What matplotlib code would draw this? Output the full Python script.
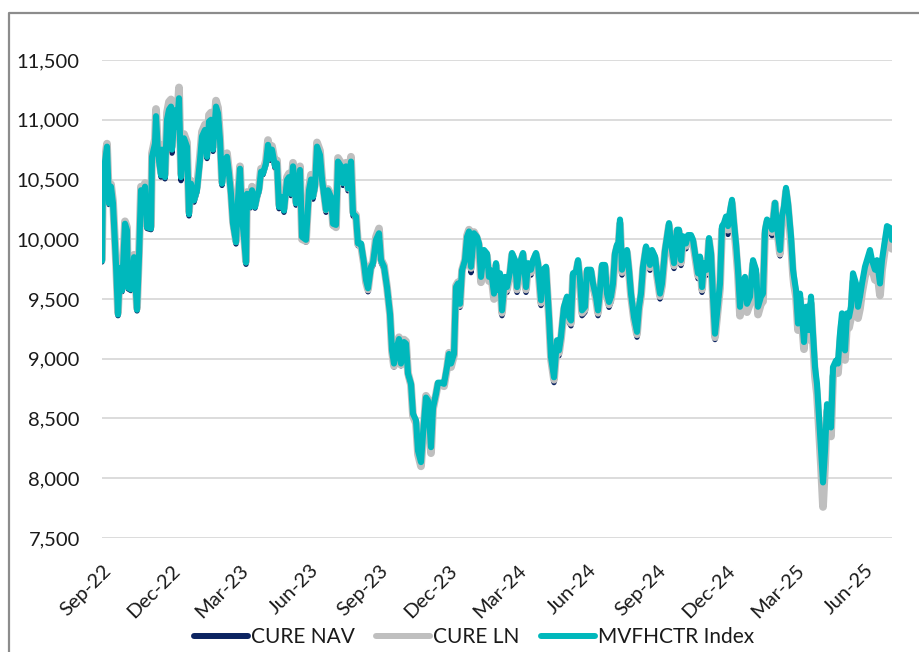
import matplotlib
matplotlib.use("Agg")
import numpy as np
import pandas as pd
import matplotlib.pyplot as plt
import matplotlib.dates as mdates
from matplotlib.lines import Line2D
from matplotlib.ticker import FuncFormatter

# position along the time axis (0 = 1 Sep 2022, 0.76 per day)
session = [
    0, 1, 5, 7, 9, 11, 14, 16, 18, 20,
    23, 25, 26, 29, 32, 35, 37, 39, 41, 43,
    45, 49, 50, 53, 54, 56, 59, 60, 63, 65,
    67, 69, 70, 73, 75, 77, 79, 82, 85, 87,
    89, 92, 95, 98, 100, 103, 105, 107, 109, 111,
    114, 116, 118, 120, 123, 125, 127, 129, 131, 134,
    136, 138, 140, 142, 144, 145, 148, 150, 153, 155,
    157, 159, 161, 164, 166, 168, 170, 173, 175, 177,
    179, 182, 185, 187, 189, 191, 194, 196, 198, 200,
    204, 207, 209, 211, 213, 215, 218, 220, 224, 226,
    229, 231, 234, 236, 239, 241, 244, 246, 249, 251,
    254, 256, 259, 262, 264, 266, 269, 271, 274, 277,
    279, 282, 285, 288, 290, 292, 295, 297, 299, 302,
    304, 306, 309, 311, 314, 316, 319, 321, 324, 326,
    329, 331, 334, 336, 339, 342, 345, 347, 349, 352,
    354, 356, 358, 360, 363, 365, 367, 369, 372, 375,
    377, 379, 382, 385, 387, 389, 392, 394, 396, 398,
    400, 403, 405, 408, 410, 413, 415, 418, 421, 424,
    426, 429, 431, 434, 436, 439, 441, 444, 447, 449,
    452, 455, 457, 459, 462, 465, 467, 469, 471, 474,
    476, 478, 480, 483, 485, 489, 491, 494, 496, 498,
    500, 503, 505, 507, 509, 511, 513, 515, 516, 518,
    520, 522, 525, 527, 529, 532, 535, 537, 539, 541,
    544, 546, 548, 550, 553, 555, 558, 560, 563, 565,
    567, 569, 572, 575, 577, 579, 581, 584, 586, 589,
    591, 594, 596, 598, 600, 602, 605, 607, 609, 611,
    613, 615, 618, 620, 622, 624, 626, 628, 630, 632,
    634, 636, 638, 640, 643, 645, 648, 651, 654, 656,
    659, 661, 663, 665, 668, 670, 673, 675, 678, 680,
    682, 684, 686, 689, 691, 692, 694, 696, 698, 700,
    702, 704, 706, 707, 709, 711, 713, 715, 717, 719,
    721, 723, 725, 727, 729, 731, 734, 736, 738, 740,
    743, 745, 747, 749, 751, 754, 756, 758, 760, 763,
    765, 768, 770, 773, 775, 778, 780, 783, 785, 788, 790,
]

mvfhctr = [
    9820, 10520, 10775, 10300, 10440, 10300, 9790, 9370, 9760, 9570,
    10130, 10075, 9595, 9580, 9850, 9410, 9850, 10410, 10240, 10440,
    10100, 10090, 10690, 10800, 11030, 10720, 10535, 10750, 10520, 11000,
    11085, 11110, 10750, 11080, 10940, 11180, 10520, 10845, 10775, 10210,
    10465, 10325, 10410, 10660, 10860, 10915, 10690, 10985, 11000, 10750,
    11110, 11055, 10830, 10465, 10660, 10690, 10550, 10380, 10130, 9975,
    10325, 10590, 10185, 10015, 9805, 10380, 10270, 10410, 10270, 10355,
    10410, 10565, 10550, 10635, 10790, 10675, 10750, 10610, 10635, 10270,
    10355, 10240, 10495, 10520, 10380, 10610, 10300, 10410, 10580, 10020,
    9995, 10410, 10500, 10355, 10440, 10775, 10705, 10500, 10245, 10410,
    10355, 10130, 10120, 10650, 10610, 10470, 10610, 10425, 10650, 10215,
    10190, 9965, 9965, 9800, 9660, 9590, 9770, 9800, 9995, 10050,
    9825, 9770, 9600, 9375, 9070, 8960, 9100, 9165, 8960, 9140,
    9125, 8875, 8790, 8540, 8485, 8230, 8135, 8370, 8675, 8650,
    8260, 8590, 8705, 8800, 8800, 8790, 8930, 9040, 8960, 9040,
    9600, 9630, 9460, 9740, 9825, 10020, 10065, 9770, 10050, 10020,
    9965, 9685, 9910, 9880, 9685, 9740, 9545, 9800, 9575, 9715,
    9405, 9685, 9600, 9730, 9885, 9825, 9600, 9800, 9885, 9600,
    9800, 9745, 9825, 9885, 9800, 9490, 9745, 9770, 9350, 9015,
    8845, 9155, 9070, 9185, 9435, 9520, 9350, 9320, 9715, 9730,
    9825, 9660, 9405, 9435, 9745, 9745, 9630, 9520, 9405, 9575,
    9785, 9785, 9545, 9475, 9520, 9630, 9885, 9955, 9910, 10165,
    9745, 9825, 9910, 9745, 9545, 9350, 9225, 9435, 9545, 9770,
    9940, 9885, 9785, 9910, 9855, 9715, 9545, 9630, 9910, 10025,
    10135, 9965, 9800, 10080, 10080, 9825, 10025, 9965, 10035, 10035,
    9995, 9825, 9715, 9855, 9600, 9800, 9745, 10010, 9885, 9520,
    9210, 9380, 9630, 10110, 10135, 10190, 10110, 10235, 10330, 10135,
    9965, 9745, 9435, 9630, 9685, 9460, 9520, 9825, 9745, 9435,
    9520, 9545, 10080, 10165, 10135, 10080, 10305, 10110, 9910, 10190,
    10275, 10430, 10305, 10025, 9745, 9685, 9575, 9295, 9545, 9350,
    9140, 9435, 9435, 9240, 9520, 9210, 8930, 8790, 8510, 8230,
    7965, 8230, 8620, 8565, 8425, 8930, 8985, 8960, 9210, 9380,
    9070, 9380, 9350, 9435, 9715, 9630, 9435, 9520, 9630, 9770,
    9825, 9910, 9825, 9745, 9825, 9630, 9825, 9995, 10110, 10095, 9995,
]

cure_nav = [
    9810, 10510, 10765, 10290, 10430, 10290, 9780, 9360, 9750, 9560,
    10120, 10065, 9585, 9570, 9840, 9400, 9840, 10400, 10230, 10430,
    10090, 10080, 10680, 10790, 11015, 10705, 10520, 10735, 10505, 10985,
    11070, 11095, 10720, 11065, 10925, 11165, 10490, 10830, 10760, 10195,
    10450, 10310, 10395, 10645, 10845, 10900, 10675, 10970, 10985, 10735,
    11095, 11040, 10815, 10450, 10645, 10675, 10535, 10365, 10115, 9960,
    10310, 10600, 10170, 10000, 9790, 10390, 10260, 10400, 10260, 10340,
    10395, 10575, 10540, 10625, 10775, 10660, 10735, 10595, 10620, 10255,
    10340, 10225, 10480, 10505, 10365, 10595, 10285, 10395, 10565, 10005,
    9975, 10390, 10480, 10335, 10420, 10755, 10685, 10480, 10225, 10390,
    10335, 10110, 10100, 10630, 10590, 10450, 10590, 10405, 10630, 10195,
    10170, 9945, 9945, 9780, 9640, 9560, 9750, 9780, 9975, 10030,
    9805, 9750, 9580, 9355, 9045, 8930, 9080, 9145, 8940, 9120,
    9105, 8855, 8770, 8515, 8460, 8200, 8110, 8345, 8655, 8630,
    8235, 8570, 8685, 8780, 8780, 8770, 8910, 9020, 8940, 9020,
    9575, 9610, 9430, 9715, 9800, 9995, 10040, 9720, 10020, 9995,
    9940, 9660, 9885, 9855, 9660, 9715, 9505, 9775, 9545, 9690,
    9360, 9640, 9555, 9685, 9840, 9780, 9555, 9755, 9840, 9555,
    9755, 9700, 9780, 9840, 9755, 9445, 9700, 9725, 9305, 8970,
    8800, 9110, 9025, 9140, 9390, 9475, 9305, 9275, 9670, 9685,
    9780, 9615, 9360, 9390, 9700, 9700, 9585, 9475, 9360, 9530,
    9740, 9740, 9500, 9430, 9475, 9585, 9840, 9910, 9865, 10110,
    9700, 9780, 9865, 9700, 9500, 9305, 9180, 9390, 9500, 9725,
    9895, 9840, 9740, 9865, 9810, 9670, 9500, 9585, 9865, 9980,
    10090, 9920, 9755, 10035, 10035, 9780, 9980, 9920, 9990, 9990,
    9950, 9780, 9670, 9810, 9555, 9755, 9700, 9965, 9840, 9475,
    9160, 9330, 9580, 10060, 10085, 10140, 10040, 10160, 10280, 10085,
    9915, 9695, 9390, 9580, 9635, 9410, 9470, 9775, 9695, 9385,
    9470, 9490, 10030, 10115, 10085, 10030, 10255, 10060, 9860, 10140,
    10210, 10380, 10255, 9975, 9695, 9635, 9525, 9245, 9495, 9300,
    9090, 9385, 9385, 9190, 9470, 9160, 8880, 8740, 8460, 8180,
    7915, 8180, 8570, 8515, 8375, 8880, 8935, 8910, 9160, 9330,
    9020, 9330, 9300, 9385, 9665, 9580, 9385, 9470, 9580, 9720,
    9775, 9860, 9775, 9695, 9775, 9580, 9775, 9945, 10060, 10045, 9945,
]

cure_ln = [
    9830, 10545, 10800, 10320, 10460, 10320, 9810, 9385, 9780, 9590,
    10150, 10100, 9610, 9600, 9870, 9425, 9880, 10440, 10260, 10470,
    10120, 10110, 10720, 10840, 11090, 10750, 10560, 10790, 10545, 11060,
    11150, 11170, 10780, 11140, 10990, 11270, 10545, 10880, 10810, 10230,
    10490, 10345, 10440, 10700, 10900, 10960, 10720, 11040, 11060, 10780,
    11160, 11100, 10860, 10480, 10690, 10720, 10570, 10395, 10145, 9985,
    10345, 10610, 10200, 10030, 9815, 10395, 10290, 10440, 10290, 10370,
    10430, 10590, 10570, 10660, 10830, 10700, 10780, 10640, 10660, 10290,
    10375, 10260, 10520, 10550, 10400, 10640, 10310, 10430, 10610, 10000,
    9985, 10430, 10540, 10370, 10460, 10810, 10740, 10520, 10250, 10420,
    10370, 10120, 10100, 10680, 10640, 10480, 10640, 10430, 10690, 10230,
    10200, 9960, 9950, 9790, 9640, 9580, 9780, 9810, 10020, 10090,
    9830, 9780, 9600, 9370, 9060, 8940, 9110, 9180, 8950, 9160,
    9145, 8880, 8780, 8520, 8460, 8200, 8100, 8340, 8690, 8660,
    8210, 8580, 8700, 8790, 8780, 8770, 8920, 9050, 8930, 9030,
    9610, 9640, 9450, 9740, 9830, 10030, 10080, 9760, 10060, 10010,
    9950, 9640, 9890, 9860, 9650, 9720, 9500, 9780, 9540, 9690,
    9385, 9665, 9580, 9710, 9870, 9805, 9580, 9780, 9870, 9580,
    9780, 9725, 9805, 9870, 9780, 9470, 9725, 9750, 9330, 8995,
    8825, 9135, 9050, 9165, 9415, 9500, 9330, 9300, 9695, 9710,
    9805, 9640, 9385, 9415, 9725, 9725, 9610, 9500, 9385, 9555,
    9765, 9765, 9525, 9455, 9500, 9610, 9865, 9935, 9890, 10130,
    9725, 9805, 9890, 9725, 9525, 9330, 9205, 9415, 9525, 9750,
    9920, 9865, 9765, 9890, 9835, 9695, 9525, 9610, 9890, 10005,
    10115, 9945, 9780, 10060, 10060, 9805, 10005, 9945, 10015, 10015,
    9975, 9805, 9695, 9835, 9580, 9780, 9725, 9990, 9865, 9500,
    9180, 9340, 9590, 10080, 10100, 10160, 10080, 10200, 10300, 10100,
    9920, 9700, 9360, 9590, 9650, 9390, 9460, 9790, 9700, 9370,
    9460, 9480, 10040, 10140, 10110, 10060, 10300, 10090, 9880, 10160,
    10230, 10400, 10270, 9960, 9700, 9620, 9520, 9240, 9500, 9300,
    9080, 9390, 9380, 9160, 9460, 9140, 8850, 8700, 8400, 8100,
    7760, 8100, 8560, 8480, 8350, 8850, 8900, 8880, 9130, 9300,
    8990, 9290, 9260, 9340, 9640, 9540, 9340, 9420, 9550, 9690,
    9740, 9840, 9760, 9660, 9740, 9530, 9740, 9920, 10040, 10020, 9920,
]

start = pd.Timestamp("2022-09-01")
dates = start + pd.to_timedelta(np.array(session) / 0.76, unit="D")
end = start + pd.Timedelta(days=790 / 0.76)

plt.rcParams["font.family"] = ["Lato", "DejaVu Sans"]
TEXT = "#1a1a1a"
NAVY = "#0c2461"
GREY = "#bfbfbf"
TEAL = "#00b8bc"

fig = plt.figure(figsize=(9.19, 6.52), dpi=100)
ax = fig.add_axes([102 / 919, 1 - 538 / 652, 790 / 919, 478 / 652])

ax.plot(dates, cure_nav, color=NAVY, lw=3.8, solid_joinstyle="round",
        solid_capstyle="round", zorder=3)
ax.plot(dates, cure_ln, color=GREY, lw=5.6, solid_joinstyle="round",
        solid_capstyle="round", zorder=4)
ax.plot(dates, mvfhctr, color=TEAL, lw=4.4, solid_joinstyle="round",
        solid_capstyle="round", zorder=5)

ax.set_xlim(start, end)
ax.set_ylim(7500, 11500)
ax.set_yticks(range(7500, 11501, 500))
ax.yaxis.set_major_formatter(FuncFormatter(lambda v, p: f"{int(v):,}"))
ax.grid(axis="y", color="#d9d9d9", lw=1.3)
ax.set_axisbelow(True)
for s in ax.spines.values():
    s.set_visible(False)

ax.xaxis.set_major_locator(mdates.MonthLocator(bymonth=[3, 6, 9, 12]))
ax.xaxis.set_major_formatter(mdates.DateFormatter("%b-%y"))
plt.setp(ax.get_xticklabels(), rotation=45, ha="right", va="top",
         rotation_mode="anchor")
ax.tick_params(axis="both", length=0, labelsize=14.5, colors=TEXT)
ax.tick_params(axis="y", pad=16)
ax.tick_params(axis="x", pad=17)

handles = [Line2D([], [], color=NAVY, lw=4.3, solid_capstyle="round"),
           Line2D([], [], color=GREY, lw=4.3, solid_capstyle="round"),
           Line2D([], [], color=TEAL, lw=4.3, solid_capstyle="round")]
fig.legend(handles, ["CURE NAV", "CURE LN", "MVFHCTR Index"], loc="center",
           bbox_to_anchor=(474 / 919, 1 - 637 / 652), ncol=3, frameon=False,
           fontsize=15, handlelength=2.6, handletextpad=0.15,
           columnspacing=1.0, labelcolor=TEXT)

# frame edges visible in the screenshot (top and left)
fig.add_artist(Line2D([9 / 919, 9 / 919, 1], [0, 1 - 13 / 652, 1 - 13 / 652],
                      transform=fig.transFigure, color="#8c8c8c", lw=1.6))

fig.savefig("out.png", dpi=100)
